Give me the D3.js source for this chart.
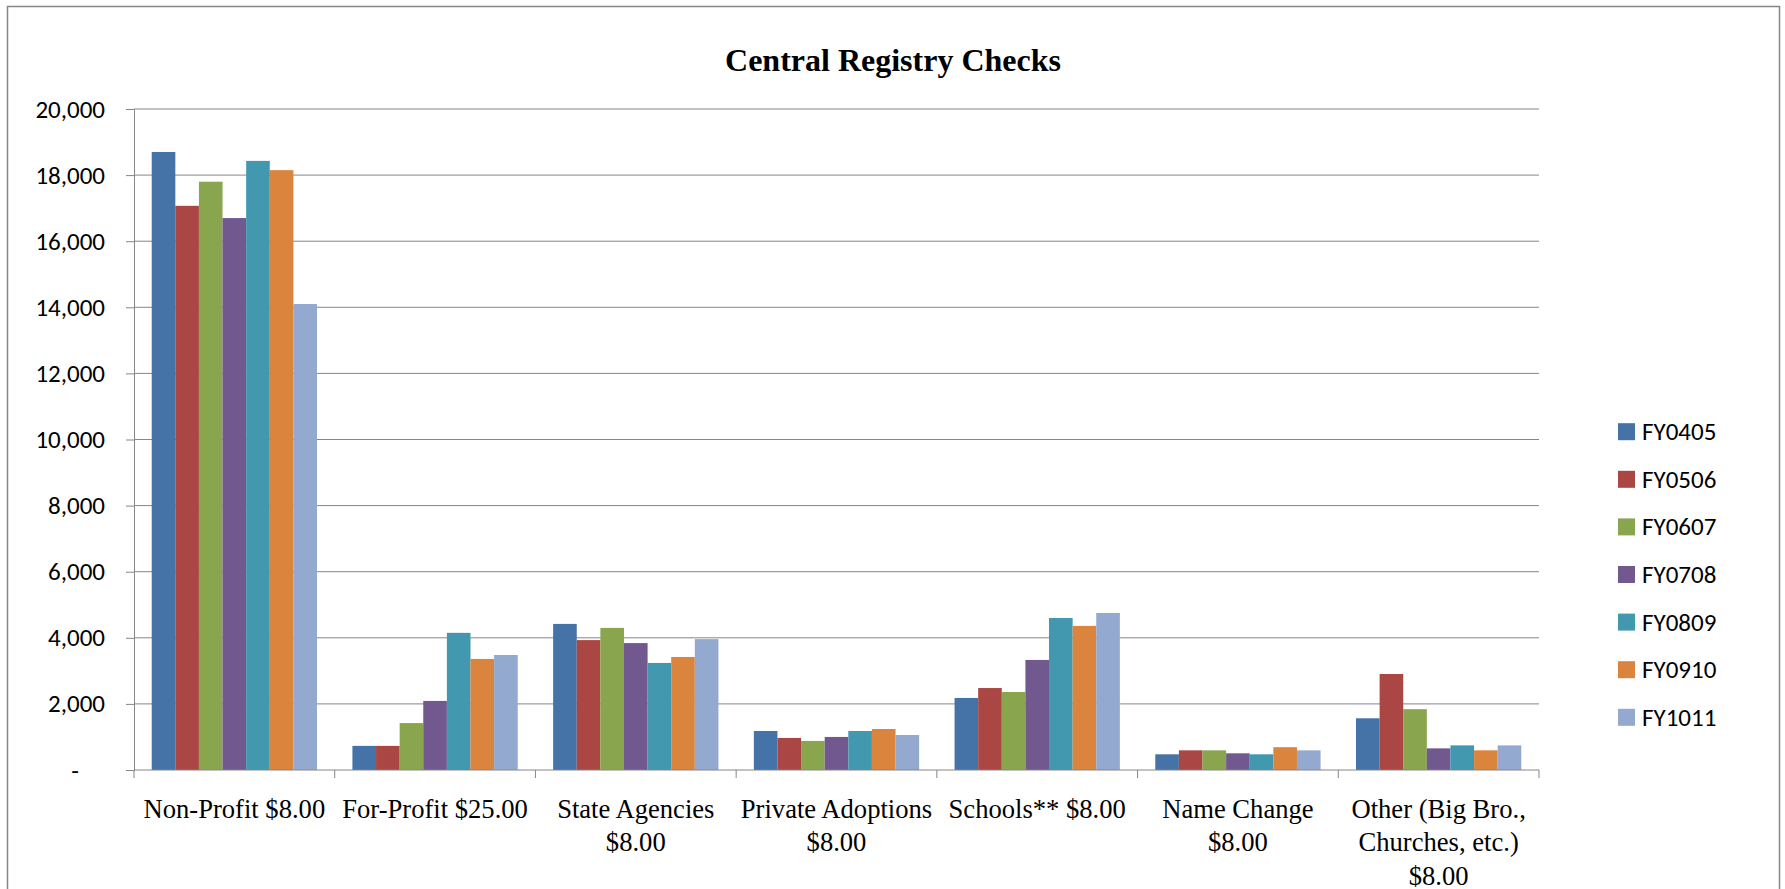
<!DOCTYPE html>
<html>
<head>
<meta charset="utf-8">
<script src="https://cdn.jsdelivr.net/npm/d3@7"></script>
<style>
  body { margin: 0; background: #fff; }
  .tick text { font-family: Carlito, Lato, sans-serif; }
</style>
</head>
<body>
<div id="chart"></div>
<script>
var categories = ["Non-Profit $8.00", "For-Profit $25.00", "State Agencies $8.00", "Private Adoptions $8.00",
    "Schools** $8.00", "Name Change $8.00", "Other (Big Bro., Churches, etc.) $8.00"];
var seriesNames = ["FY0405", "FY0506", "FY0607", "FY0708", "FY0809", "FY0910", "FY1011"];
var seriesColors = ["#4572A7", "#AA4643", "#89A54E", "#71588F", "#4198AF", "#DB843D", "#93A9CF"];

// one array per fiscal year, in category order
var fy0405 = [18700, 730, 4420, 1180, 2180, 475, 1565];
var fy0506 = [17070, 730, 3930, 970, 2480, 595, 2905];
var fy0607 = [17800, 1420, 4300, 880, 2360, 595, 1840];
var fy0708 = [16700, 2090, 3840, 1000, 3330, 505, 655];
var fy0809 = [18430, 4150, 3240, 1180, 4600, 475, 745];
var fy0910 = [18150, 3360, 3420, 1240, 4360, 690, 595];
var fy1011 = [14100, 3480, 3960, 1060, 4750, 595, 745];
var seriesValues = [fy0405, fy0506, fy0607, fy0708, fy0809, fy0910, fy1011];

var yTicks = [0, 2000, 4000, 6000, 8000, 10000, 12000, 14000, 16000, 18000, 20000];

var W = 1785, H = 889;
var margin = {left: 134, right: 246, top: 109, bottom: 119};
var width = W - margin.left - margin.right;
var height = H - margin.top - margin.bottom;
var axisColor = "#868686";
var commaFormat = d3.format(",");

var svg = d3.select("#chart").append("svg")
    .attr("width", W)
    .attr("height", H);

// chart frame
svg.append("rect")
    .attr("x", 7.5).attr("y", 6.5)
    .attr("width", 1772).attr("height", 900)
    .style("fill", "none")
    .style("stroke", axisColor)
    .style("stroke-width", 1.5);

svg.append("text")
    .attr("x", 893).attr("y", 71)
    .attr("text-anchor", "middle")
    .style("font-family", "'Liberation Serif', 'Times New Roman', serif")
    .style("font-weight", "bold")
    .style("font-size", "32px")
    .text("Central Registry Checks");

var g = svg.append("g")
    .attr("transform", "translate(" + margin.left + "," + margin.top + ")");

var x0 = d3.scaleBand()
    .domain(categories)
    .range([0, width]);

var x1 = d3.scaleBand()
    .domain(seriesNames)
    .range([0, x0.bandwidth()])
    .paddingOuter(0.75);

var y = d3.scaleLinear()
    .domain([0, 20000])
    .range([height, 0]);

// gridlines
g.append("g").selectAll("line")
    .data(yTicks.filter(d => d > 0))
    .enter().append("line")
    .attr("x1", 0).attr("x2", width)
    .attr("y1", d => y(d)).attr("y2", d => y(d))
    .style("stroke", axisColor)
    .style("stroke-width", 1);

// bars
seriesNames.forEach((s, i) => {
    g.append("g").selectAll("rect")
        .data(seriesValues[i])
        .enter().append("rect")
        .attr("x", (d, j) => x0(categories[j]) + x1(s))
        .attr("width", x1.bandwidth())
        .attr("y", d => y(d))
        .attr("height", d => height - y(d))
        .style("fill", seriesColors[i]);
});

// y axis
var yAxis = g.append("g")
    .call(d3.axisLeft(y)
        .tickValues(yTicks)
        .tickSize(8)
        .tickPadding(21)
        .tickFormat(d => d === 0 ? "-" : commaFormat(d)));
yAxis.select(".domain").style("stroke", axisColor);
yAxis.selectAll(".tick line").style("stroke", axisColor);
yAxis.selectAll(".tick text")
    .style("font-size", "25px")
    .style("fill", "#000")
    .attr("dx", d => d === 0 ? -26 : 0);

// x axis: line plus ticks at the category boundaries
var xAxis = g.append("g").attr("transform", "translate(0," + height + ")");
xAxis.append("line")
    .attr("x1", 0).attr("x2", width)
    .style("stroke", axisColor);
var bounds = categories.map(c => x0(c)).concat([width]);
xAxis.selectAll(".xtick")
    .data(bounds)
    .enter().append("line")
    .attr("class", "xtick")
    .attr("x1", d => d).attr("x2", d => d)
    .attr("y1", 0).attr("y2", 8)
    .style("stroke", axisColor);

var labels = xAxis.selectAll(".xlabel")
    .data(categories)
    .enter().append("text")
    .attr("class", "xlabel")
    .attr("x", d => x0(d) + x0.bandwidth() / 2)
    .attr("y", 48)
    .attr("text-anchor", "middle")
    .style("font-family", "'Liberation Serif', 'Times New Roman', serif")
    .style("font-size", "26.6px")
    .text(d => d);

// wrap the category names to the band width
labels.each(function(d) {
    var text = d3.select(this);
    var words = d.split(" ");
    var cx = text.attr("x");
    text.text(null);
    var line = [];
    var tspan = text.append("tspan").attr("x", cx).attr("dy", 0);
    words.forEach(w => {
        line.push(w);
        tspan.text(line.join(" "));
        if (tspan.node().getComputedTextLength() > x0.bandwidth() - 4 && line.length > 1) {
            line.pop();
            tspan.text(line.join(" "));
            line = [w];
            tspan = text.append("tspan").attr("x", cx).attr("dy", 33.3).text(w);
        }
    });
});

// legend
var legend = svg.append("g");
seriesNames.forEach((s, i) => {
    var ly = 431.7 + i * 47.6;
    legend.append("rect")
        .attr("x", 1618).attr("y", ly - 8.5)
        .attr("width", 17).attr("height", 17)
        .style("fill", seriesColors[i]);
    legend.append("text")
        .attr("x", 1642).attr("y", ly)
        .attr("dominant-baseline", "central")
        .style("font-family", "Carlito, Lato, sans-serif")
        .style("font-size", "25px")
        .text(s);
});
</script>
</body>
</html>
